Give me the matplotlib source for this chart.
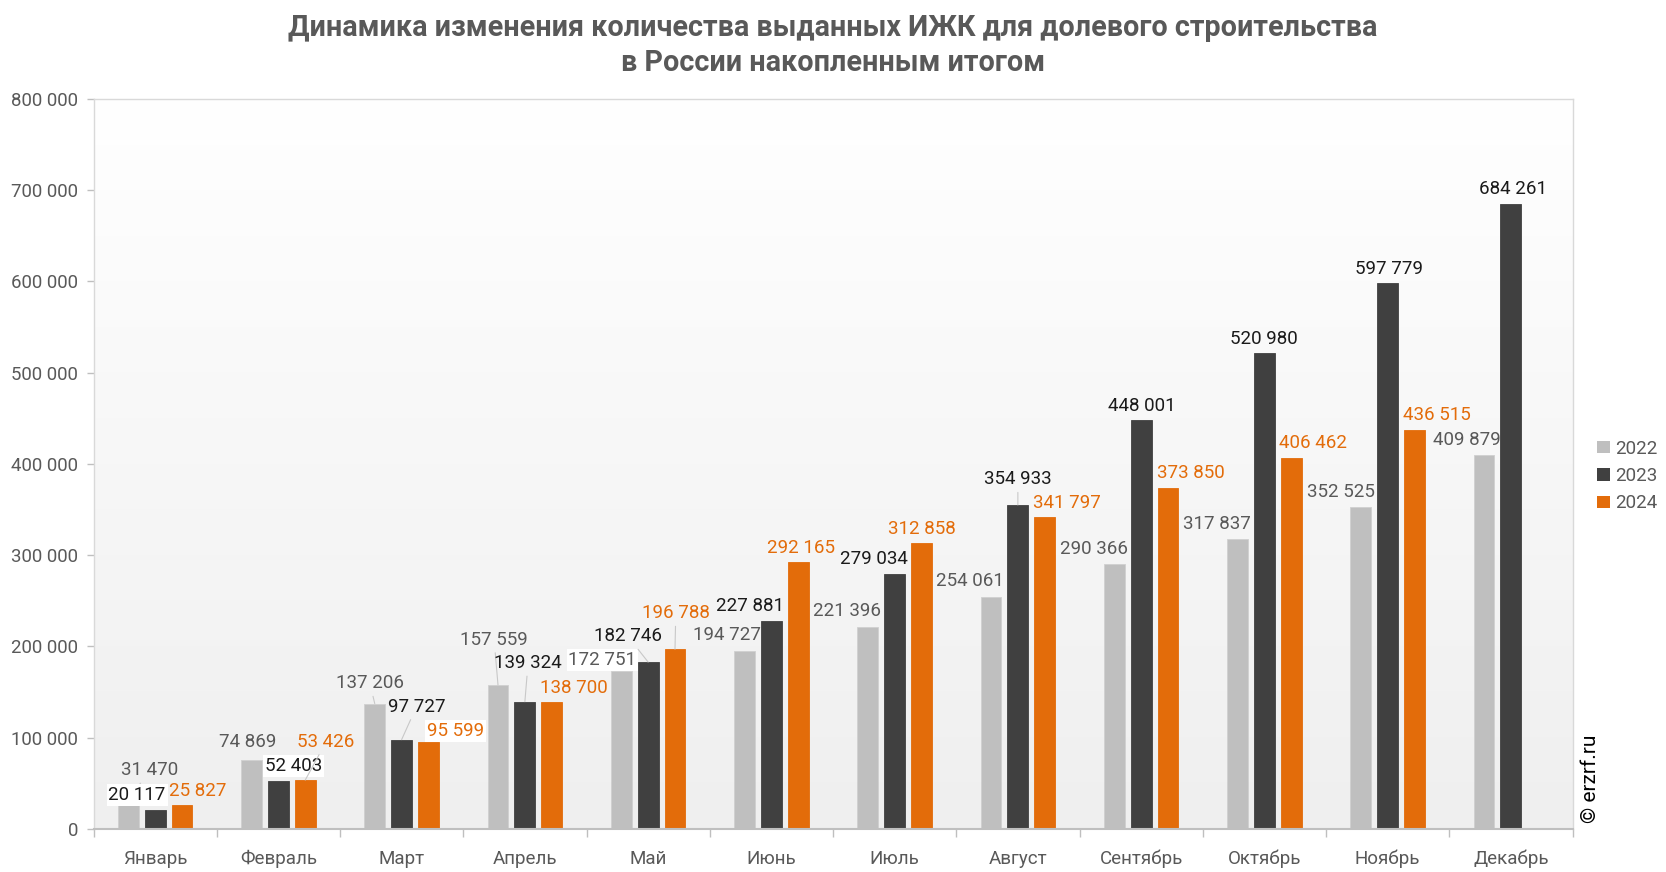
import numpy as np
import matplotlib
matplotlib.use("Agg")
import matplotlib.pyplot as plt
from matplotlib.ticker import FuncFormatter, MultipleLocator, FixedLocator
from matplotlib.patches import Patch
from matplotlib.colors import LinearSegmentedColormap

plt.rcParams['font.family'] = ['Roboto', 'DejaVu Sans']

months = ["Январь", "Февраль", "Март", "Апрель", "Май", "Июнь", "Июль",
          "Август", "Сентябрь", "Октябрь", "Ноябрь", "Декабрь"]
series_names = ["2022", "2023", "2024"]
v2022 = [31470, 74869, 137206, 157559, 172751, 194727, 221396, 254061,
         290366, 317837, 352525, 409879]
v2023 = [20117, 52403, 97727, 139324, 182746, 227881, 279034, 354933,
         448001, 520980, 597779, 684261]
v2024 = [25827, 53426, 95599, 138700, 196788, 292165, 312858, 341797,
         373850, 406462, 436515]

title = "Динамика изменения количества выданных ИЖК для долевого строительства\nв России накопленным итогом"

# styling
colors = ["#BFBFBF", "#404040", "#E36C0A"]
label_colors = ["#595959", "#1a1a1a", "#E36C0A"]
# label offsets (pixels) from bar top-centre, per series
off2022 = [(21.6, 29.8), (-3.9, 18.9), (-4.9, 20.4), (-3.9, 45.4), (-18.8, 11.4),
           (-17.7, 15.7), (-20.9, 15.9), (-20.9, 15.8), (-19.8, 14.5), (-20.9, 15.0),
           (-19.8, 15.2), (-16.7, 14.9)]
off2023 = [(-18.0, 15.6), (14.9, 14.9), (14.9, 33.0), (3.2, 38.7), (-20.2, 25.6),
           (-21.3, 15.3), (-20.2, 15.3), (0.0, 25.7), (1.1, 14.1), (0.0, 14.5),
           (1.1, 14.5), (2.1, 15.3)]
off2024 = [(15.6, 14.7), (20.9, 38.4), (27.3, 10.6), (22.0, 13.8), (0.8, 36.1),
           (2.8, 13.9), (0.8, 14.2), (22.0, 14.3), (23.1, 14.9), (22.0, 14.8),
           (22.0, 15.1)]
leader = {(0, 0), (0, 2), (0, 3), (1, 2), (1, 3), (1, 4), (1, 7), (2, 1), (2, 4)}
whitebox = {(1, 0), (1, 1), (2, 2), (0, 4)}

fig = plt.figure(figsize=(16.66, 8.72), dpi=100)
ax = fig.add_axes([93.5 / 1666, 1 - 828.8 / 872, (1572.5 - 93.5) / 1666, (828.8 - 98.8) / 872])

# gradient background
grad = np.linspace(0, 1, 256).reshape(-1, 1)
cmap = LinearSegmentedColormap.from_list("bg", ["#efefef", "#ffffff"])
ax.imshow(grad, aspect='auto', cmap=cmap, extent=[0, 1, 0, 1], origin='lower',
          transform=ax.transAxes, zorder=0)

x = np.arange(len(months))
width = 0.17
step = 0.218
all_vals = [v2022, v2023, v2024]
all_offs = [off2022, off2023, off2024]
for s, (vals, offs) in enumerate(zip(all_vals, all_offs)):
    xs = x[:len(vals)] + (s - 1) * step
    ax.bar(xs, vals, width=width, color=colors[s], edgecolor="#d0d0d0" if s == 0 else colors[s],
           linewidth=0.6, zorder=2, label=series_names[s])
    for i, (xx, v) in enumerate(zip(xs, vals)):
        txt = f"{v:,}".replace(",", " ")
        kw = {}
        if (s, i) in whitebox:
            kw['bbox'] = dict(boxstyle='square,pad=0.1', fc='white', ec='none')
        if (s, i) in leader:
            kw['arrowprops'] = dict(arrowstyle='-', color='#c8c8c8', lw=0.8,
                                    shrinkA=1, shrinkB=0)
        ax.annotate(txt, xy=(xx, v), xytext=offs[i], textcoords='offset pixels',
                    ha='center', va='center', fontsize=13.5, color=label_colors[s],
                    zorder=4, **kw)

ax.set_xlim(-0.5, 11.5)
ax.set_ylim(0, 800000)
ax.yaxis.set_major_locator(MultipleLocator(100000))
ax.yaxis.set_major_formatter(FuncFormatter(lambda v, p: f"{int(v):,}".replace(",", " ")))
ax.set_xticks(x)
ax.set_xticklabels(months)
ax.xaxis.set_minor_locator(FixedLocator(np.arange(-0.5, 12.0, 1.0)))
ax.tick_params(axis='x', which='major', length=0, pad=15, labelsize=13.5, labelcolor="#595959")
ax.tick_params(axis='x', which='minor', length=6, color="#bfbfbf", width=1)
ax.tick_params(axis='y', length=5, color="#bfbfbf", width=1, pad=6, labelsize=13.4,
               labelcolor="#595959")

for side in ['top', 'right', 'left']:
    ax.spines[side].set_color("#d9d9d9")
    ax.spines[side].set_linewidth(1)
ax.spines['bottom'].set_color("#bfbfbf")
ax.spines['bottom'].set_linewidth(1.5)

fig.text(0.5, 1 - 45.5 / 872, title, ha='center', va='center', fontsize=20.7,
         fontweight='bold', color="#595959", linespacing=1.32)

handles = [Patch(facecolor=c, edgecolor='none') for c in colors]
fig.legend(handles, series_names, loc='center left', bbox_to_anchor=(1588 / 1666, 1 - 476 / 872),
           frameon=False, fontsize=13.5, labelcolor="#595959", handlelength=0.65,
           handleheight=0.65, handletextpad=0.3, labelspacing=0.5, borderpad=0)

fig.text(1590 / 1666, 1 - 779 / 872, "© erzrf.ru", rotation=90, ha='center', va='center',
         fontsize=15, color="#000000")

fig.savefig("out.png", dpi=100)
